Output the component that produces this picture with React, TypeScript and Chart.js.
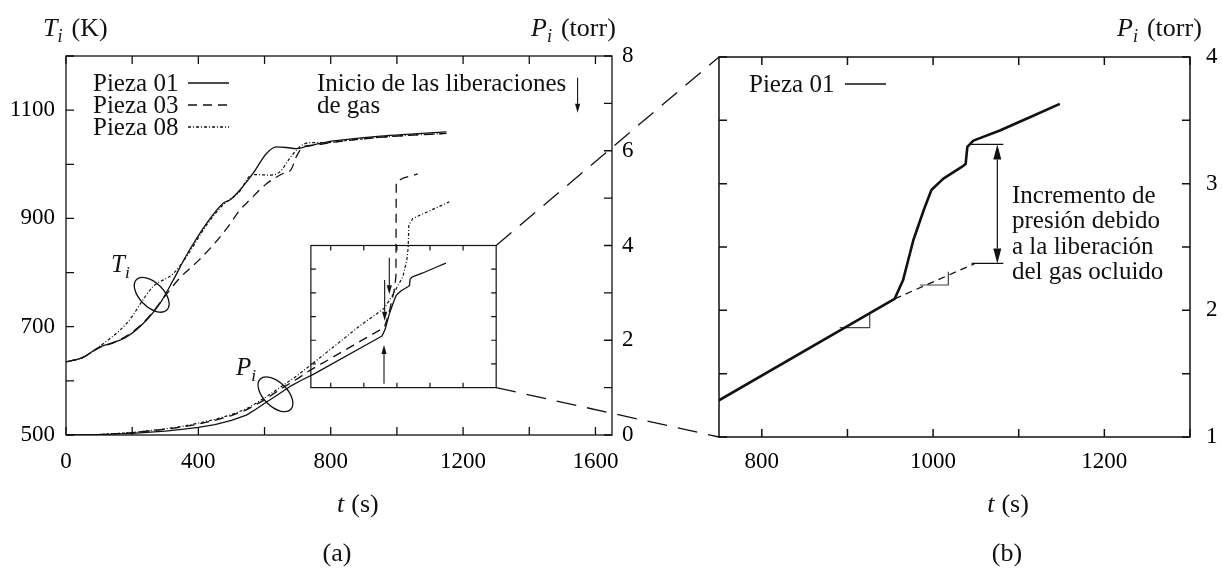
import { useEffect, useRef } from 'react';
import { Chart, registerables } from 'chart.js';

Chart.register(...registerables);

const W = 1222;
const H = 569;
const SERIF = '"Liberation Serif", "Times New Roman", serif';
const INK = '#111';

// ---------- Panel (a): temperatures T_i (K) ----------
const temp01Time = [0, 50, 100, 133, 183, 243, 284, 324, 364, 425, 475, 495, 525, 565, 606, 636, 666, 696, 727, 787, 850, 950, 1050, 1150];
const temp01 = [635, 643, 662, 669, 681, 712, 743, 786, 832, 891, 928, 934, 952, 983, 1020, 1032, 1031, 1029, 1033, 1041, 1046, 1052, 1056, 1060];
const temp03Time = [0, 50, 100, 150, 200, 250, 300, 344, 400, 445, 490, 525, 555, 606, 656, 680, 696, 716, 746, 800, 900, 1000, 1150];
const temp03 = [635, 643, 661, 672, 690, 718, 757, 790, 822, 851, 885, 915, 934, 964, 983, 990, 1014, 1032, 1035, 1040, 1047, 1052, 1057];
const temp08Time = [0, 50, 100, 183, 263, 324, 364, 425, 475, 525, 555, 575, 616, 646, 676, 706, 736, 787, 850, 950, 1050, 1150];
const temp08 = [635, 643, 663, 706, 774, 798, 829, 888, 925, 950, 978, 981, 980, 986, 1011, 1032, 1040, 1040, 1044, 1050, 1054, 1057];

// ---------- Panel (a): pressures P_i (torr) ----------
const pres01Time = [0, 100, 200, 300, 350, 400, 450, 500, 545, 575, 605, 640, 676, 710, 750, 955, 965, 977, 989, 998, 1012, 1033, 1038, 1040, 1047, 1078, 1115, 1148];
const pres01 = [0, 0.01, 0.035, 0.08, 0.12, 0.16, 0.22, 0.31, 0.42, 0.55, 0.69, 0.85, 1.02, 1.15, 1.29, 2.09, 2.24, 2.555, 2.79, 2.95, 3.04, 3.13, 3.155, 3.29, 3.34, 3.42, 3.53, 3.63];
const pres03Time = [0, 100, 200, 300, 350, 400, 450, 500, 545, 600, 646, 700, 736, 796, 887, 962, 977, 992, 997, 998, 1018, 1063];
const pres03 = [0, 0.01, 0.05, 0.12, 0.17, 0.23, 0.31, 0.41, 0.53, 0.74, 0.96, 1.19, 1.36, 1.6, 1.97, 2.27, 2.6, 3.06, 3.34, 5.34, 5.42, 5.51];
const pres08Time = [0, 100, 200, 300, 350, 400, 450, 500, 545, 600, 646, 700, 736, 796, 887, 961, 987, 1018, 1030, 1034, 1036, 1048, 1158];
const pres08 = [0, 0.01, 0.05, 0.13, 0.18, 0.25, 0.33, 0.43, 0.55, 0.78, 1.0, 1.26, 1.46, 1.79, 2.3, 2.67, 2.95, 3.34, 3.7, 3.95, 4.43, 4.57, 4.92];

// ---------- Panel (b): construction lines ----------
const extrapTime = [955, 1049];
const extrapPres = [2.09, 2.37];
const slope1Time = [891, 926, 926];
const slope1Pres = [1.864, 1.864, 1.984];
const slope2Time = [984.7, 1017.8, 1017.8];
const slope2Pres = [2.2, 2.2, 2.305];

// annotation anchors (data coordinates)
const increaseTop = { t0: 1043, t1: 1082, p: 3.31 };
const increaseBottom = { t0: 1045, t1: 1082, p: 2.37 };
const increaseArrowTime = 1075;
const insetTime = [740, 1300];
const insetPres = [1, 4];
const insetTimeTicks = [800, 900, 1000, 1100, 1200];
const insetPresTicks = [1.5, 2, 2.5, 3, 3.5];
const releaseArrows = [
  { t: 977, from: 3.74, to: 2.97 },
  { t: 963, from: 3.27, to: 2.41 },
  { t: 961, from: 1.08, to: 1.9 },
];
const startArrow = { t: 1546, from: 7.54, to: 6.8 };
const ellipseT = { t: 259, v: 759 };
const ellipseP = { t: 633, v: 0.86 };

const legendLabelsA = ['Pieza 01', 'Pieza 03', 'Pieza 08'];
const dashSolid: number[] = [];
const dashDashed = [9, 6];
const dashDotted = [3, 2, 1, 2];

const toPoints = (xs: number[], ys: number[]) => xs.map((x, i) => ({ x, y: ys[i] }));

const TICK = 8;
const fnt = (size: number, italic = false) => `${italic ? 'italic ' : ''}${size}px ${SERIF}`;

type Part = [string, 'n' | 'i' | 's' | 'g'];
function drawRich(ctx: CanvasRenderingContext2D, x: number, y: number, parts: Part[], size: number, align: 'left' | 'center' = 'left') {
  const widths = parts.map(([t, s]) => {
    if (s === 'g') return Number(t);
    ctx.font = s === 's' ? fnt(size * 0.7, true) : fnt(size, s === 'i');
    return ctx.measureText(t).width;
  });
  const total = widths.reduce((a, b) => a + b, 0);
  let cx = align === 'center' ? x - total / 2 : x;
  ctx.textAlign = 'left';
  ctx.textBaseline = 'alphabetic';
  parts.forEach(([t, s], i) => {
    if (s !== 'g') {
      ctx.font = s === 's' ? fnt(size * 0.7, true) : fnt(size, s === 'i');
      ctx.fillText(t, cx, s === 's' ? y + size * 0.22 : y);
    }
    cx += widths[i];
  });
}

function arrow(ctx: CanvasRenderingContext2D, x1: number, y1: number, x2: number, y2: number, len: number, half: number) {
  const ang = Math.atan2(y2 - y1, x2 - x1);
  const bx = x2 - len * Math.cos(ang);
  const by = y2 - len * Math.sin(ang);
  ctx.beginPath();
  ctx.moveTo(x1, y1);
  ctx.lineTo(bx, by);
  ctx.stroke();
  ctx.beginPath();
  ctx.moveTo(x2, y2);
  ctx.lineTo(bx + half * Math.sin(ang), by - half * Math.cos(ang));
  ctx.lineTo(bx - half * Math.sin(ang), by + half * Math.cos(ang));
  ctx.closePath();
  ctx.fill();
}

const tickFont = { family: SERIF, size: 23 };
const gridOff = { display: false, drawTicks: false };

const panelAPlugin = {
  id: 'panelA',
  afterDraw(chart: any) {
    const { ctx, chartArea: ca, scales } = chart;
    const xs = scales.x, yT = scales.yT, yP = scales.yP;
    ctx.save();
    ctx.strokeStyle = INK;
    ctx.fillStyle = INK;
    ctx.lineWidth = 1.3;
    ctx.setLineDash([]);
    ctx.strokeRect(ca.left, ca.top, ca.right - ca.left, ca.bottom - ca.top);
    ctx.beginPath();
    xs.ticks.forEach((t: any) => {
      const px = xs.getPixelForValue(t.value);
      ctx.moveTo(px, ca.bottom); ctx.lineTo(px, ca.bottom - TICK);
      ctx.moveTo(px, ca.top); ctx.lineTo(px, ca.top + TICK);
    });
    yT.ticks.forEach((t: any) => {
      const py = yT.getPixelForValue(t.value);
      ctx.moveTo(ca.left, py); ctx.lineTo(ca.left + TICK, py);
    });
    yP.ticks.forEach((t: any) => {
      const py = yP.getPixelForValue(t.value);
      ctx.moveTo(ca.right, py); ctx.lineTo(ca.right - TICK, py);
    });
    ctx.stroke();

    // inset box
    const ix0 = xs.getPixelForValue(insetTime[0]);
    const ix1 = xs.getPixelForValue(insetTime[1]);
    const iy0 = yP.getPixelForValue(insetPres[0]);
    const iy1 = yP.getPixelForValue(insetPres[1]);
    ctx.lineWidth = 1.2;
    ctx.strokeRect(ix0, iy1, ix1 - ix0, iy0 - iy1);
    ctx.beginPath();
    insetTimeTicks.forEach((t) => {
      const px = xs.getPixelForValue(t);
      ctx.moveTo(px, iy0); ctx.lineTo(px, iy0 - 5);
      ctx.moveTo(px, iy1); ctx.lineTo(px, iy1 + 5);
    });
    insetPresTicks.forEach((p) => {
      const py = yP.getPixelForValue(p);
      ctx.moveTo(ix0, py); ctx.lineTo(ix0 + 5, py);
      ctx.moveTo(ix1, py); ctx.lineTo(ix1 - 5, py);
    });
    ctx.stroke();

    // release arrows
    ctx.lineWidth = 1.1;
    releaseArrows.forEach((a) => {
      const px = xs.getPixelForValue(a.t);
      arrow(ctx, px, yP.getPixelForValue(a.from), px, yP.getPixelForValue(a.to), 9, 2.6);
    });
    {
      const px = xs.getPixelForValue(startArrow.t);
      arrow(ctx, px, yP.getPixelForValue(startArrow.from), px, yP.getPixelForValue(startArrow.to), 9, 2.6);
    }

    // ellipses
    ctx.lineWidth = 1.3;
    [[xs.getPixelForValue(ellipseT.t), yT.getPixelForValue(ellipseT.v)], [xs.getPixelForValue(ellipseP.t), yP.getPixelForValue(ellipseP.v)]].forEach(([cx, cy]) => {
      ctx.beginPath();
      ctx.ellipse(cx, cy, 21.5, 12, Math.PI / 4, 0, Math.PI * 2);
      ctx.stroke();
    });
    drawRich(ctx, 111, 272, [['T', 'i'], ['i', 's']], 25);
    drawRich(ctx, 236, 375, [['P', 'i'], ['i', 's']], 25);

    // legend
    const ds = chart.data.datasets;
    legendLabelsA.forEach((lab, i) => {
      const base = 91 + i * 22;
      drawRich(ctx, 93, base, [[lab, 'n']], 25);
      ctx.save();
      ctx.lineWidth = 1.3;
      ctx.setLineDash(ds[i].borderDash || []);
      ctx.beginPath();
      ctx.moveTo(188, base - 8);
      ctx.lineTo(229, base - 8);
      ctx.stroke();
      ctx.restore();
    });

    drawRich(ctx, 317, 91, [['Inicio de las liberaciones', 'n']], 25);
    drawRich(ctx, 317, 113, [['de gas', 'n']], 25);

    // axis titles
    drawRich(ctx, 43, 36, [['T', 'i'], ['i', 's'], ['9', 'g'], ['(K)', 'n']], 26);
    drawRich(ctx, 531, 36, [['P', 'i'], ['i', 's'], ['9', 'g'], ['(torr)', 'n']], 26);
    drawRich(ctx, 337, 512, [['t', 'i'], ['7', 'g'], ['(s)', 'n']], 26);
    drawRich(ctx, 337, 561, [['(a)', 'n']], 26, 'center');
    ctx.restore();
  },
};

function makePanelBPlugin(getA: () => any) {
  return {
    id: 'panelB',
    afterDraw(chart: any) {
      const { ctx, chartArea: ca, scales } = chart;
      const xs = scales.x, ys = scales.y;
      ctx.save();
      ctx.strokeStyle = INK;
      ctx.fillStyle = INK;
      ctx.lineWidth = 1.5;
      ctx.setLineDash([]);
      ctx.strokeRect(ca.left, ca.top, ca.right - ca.left, ca.bottom - ca.top);
      ctx.beginPath();
      xs.ticks.forEach((t: any) => {
        const px = xs.getPixelForValue(t.value);
        ctx.moveTo(px, ca.bottom); ctx.lineTo(px, ca.bottom - TICK);
        ctx.moveTo(px, ca.top); ctx.lineTo(px, ca.top + TICK);
      });
      ys.ticks.forEach((t: any) => {
        const py = ys.getPixelForValue(t.value);
        ctx.moveTo(ca.left, py); ctx.lineTo(ca.left + TICK, py);
        ctx.moveTo(ca.right, py); ctx.lineTo(ca.right - TICK, py);
      });
      ctx.stroke();

      // legend
      drawRich(ctx, 749, 92, [['Pieza 01', 'n']], 25);
      ctx.lineWidth = 1.6;
      ctx.beginPath();
      ctx.moveTo(845, 84); ctx.lineTo(886, 84);
      ctx.stroke();

      // increment marks
      ctx.lineWidth = 1.2;
      ctx.beginPath();
      ctx.moveTo(xs.getPixelForValue(increaseTop.t0), ys.getPixelForValue(increaseTop.p));
      ctx.lineTo(xs.getPixelForValue(increaseTop.t1), ys.getPixelForValue(increaseTop.p));
      ctx.moveTo(xs.getPixelForValue(increaseBottom.t0), ys.getPixelForValue(increaseBottom.p));
      ctx.lineTo(xs.getPixelForValue(increaseBottom.t1), ys.getPixelForValue(increaseBottom.p));
      ctx.stroke();
      const ax = xs.getPixelForValue(increaseArrowTime);
      const ayTop = ys.getPixelForValue(increaseTop.p);
      const ayBot = ys.getPixelForValue(increaseBottom.p);
      const mid = (ayTop + ayBot) / 2;
      arrow(ctx, ax, mid, ax, ayTop, 15, 4);
      arrow(ctx, ax, mid, ax, ayBot, 15, 4);

      ['Incremento de', 'presión debido', 'a la liberación', 'del gas ocluido'].forEach((line, i) => {
        drawRich(ctx, 1012, 203 + i * 25.3, [[line, 'n']], 25);
      });

      drawRich(ctx, 1117, 36, [['P', 'i'], ['i', 's'], ['9', 'g'], ['(torr)', 'n']], 26);
      drawRich(ctx, 1008, 512, [['t', 'i'], ['7', 'g'], ['(s)', 'n']], 26, 'center');
      drawRich(ctx, 1007, 561, [['(b)', 'n']], 26, 'center');

      // connectors to the inset of panel (a)
      const a = getA();
      if (a) {
        const axs = a.scales.x, ayP = a.scales.yP;
        ctx.lineWidth = 1.3;
        ctx.setLineDash([20, 11]);
        ctx.beginPath();
        ctx.moveTo(axs.getPixelForValue(insetTime[1]), ayP.getPixelForValue(insetPres[1]));
        ctx.lineTo(xs.getPixelForValue(750), ys.getPixelForValue(4));
        ctx.moveTo(axs.getPixelForValue(insetTime[1]), ayP.getPixelForValue(insetPres[0]));
        ctx.lineTo(xs.getPixelForValue(750), ys.getPixelForValue(1));
        ctx.stroke();
      }
      ctx.restore();
    },
  };
}

const lineDs = (data: any[], dash: number[], axis: string, width: number, mono: boolean) => ({
  data,
  yAxisID: axis,
  borderColor: INK,
  borderWidth: width,
  borderDash: dash,
  pointRadius: 0,
  fill: false,
  tension: 0,
  cubicInterpolationMode: mono ? 'monotone' : 'default',
  borderJoinStyle: 'round',
});

export default function App() {
  const refA = useRef<HTMLCanvasElement>(null);
  const refB = useRef<HTMLCanvasElement>(null);

  useEffect(() => {
    const chartA: any = new Chart(refA.current as HTMLCanvasElement, {
      type: 'line',
      data: {
        datasets: [
          lineDs(toPoints(temp01Time, temp01), dashSolid, 'yT', 1.3, true),
          lineDs(toPoints(temp03Time, temp03), dashDashed, 'yT', 1.3, true),
          lineDs(toPoints(temp08Time, temp08), dashDotted, 'yT', 1.2, true),
          lineDs(toPoints(pres01Time, pres01), dashSolid, 'yP', 1.3, false),
          lineDs(toPoints(pres03Time, pres03), dashDashed, 'yP', 1.3, false),
          lineDs(toPoints(pres08Time, pres08), dashDotted, 'yP', 1.2, false),
        ] as any,
      },
      options: {
        responsive: false,
        animation: false,
        events: [],
        layout: { padding: { top: 56, left: 0, right: 0, bottom: 0 } },
        plugins: { legend: { display: false }, tooltip: { enabled: false } },
        scales: {
          x: {
            type: 'linear', position: 'bottom', min: 0, max: 1650,
            afterFit: (s: any) => { s.height = H - 435; },
            grid: gridOff, border: { display: false },
            ticks: { stepSize: 200, includeBounds: false, autoSkip: false, maxRotation: 0, padding: 13, color: '#000', font: tickFont,
              callback: (v: any) => (Number(v) % 400 === 0 ? String(v) : '') },
          },
          yT: {
            type: 'linear', position: 'left', min: 500, max: 1200,
            afterFit: (s: any) => { s.width = 66; },
            grid: gridOff, border: { display: false },
            ticks: { stepSize: 100, autoSkip: false, padding: 11, color: '#000', font: tickFont,
              callback: (v: any) => ([500, 700, 900, 1100].includes(Number(v)) ? String(v) : '') },
          },
          yP: {
            type: 'linear', position: 'right', min: 0, max: 8,
            afterFit: (s: any) => { s.width = W - 612; },
            grid: gridOff, border: { display: false },
            ticks: { stepSize: 1, autoSkip: false, padding: 10, color: '#000', font: tickFont,
              callback: (v: any) => (Number(v) % 2 === 0 ? String(v) : '') },
          },
        },
      } as any,
      plugins: [panelAPlugin as any],
    });

    const chartB: any = new Chart(refB.current as HTMLCanvasElement, {
      type: 'line',
      data: {
        datasets: [
          lineDs(toPoints(pres01Time, pres01), dashSolid, 'y', 2.6, false),
          lineDs(toPoints(extrapTime, extrapPres), [7, 5], 'y', 1.3, false),
          { ...lineDs(toPoints(slope1Time, slope1Pres), dashSolid, 'y', 1.2, false), borderColor: '#444' },
          { ...lineDs(toPoints(slope2Time, slope2Pres), dashSolid, 'y', 1.2, false), borderColor: '#444' },
        ] as any,
      },
      options: {
        responsive: false,
        animation: false,
        events: [],
        layout: { padding: { top: 57, left: 719, right: 0, bottom: 0 } },
        plugins: { legend: { display: false }, tooltip: { enabled: false } },
        scales: {
          x: {
            type: 'linear', position: 'bottom', min: 750, max: 1300,
            afterFit: (s: any) => { s.height = H - 437; },
            grid: gridOff, border: { display: false },
            ticks: { stepSize: 100, includeBounds: false, autoSkip: false, maxRotation: 0, padding: 11, color: '#000', font: tickFont,
              callback: (v: any) => ([800, 1000, 1200].includes(Number(v)) ? String(v) : '') },
          },
          y: {
            type: 'linear', position: 'right', min: 1, max: 4,
            afterFit: (s: any) => { s.width = W - 1190; },
            grid: gridOff, border: { display: false },
            ticks: { stepSize: 0.5, autoSkip: false, padding: 16, color: '#000', font: tickFont,
              callback: (v: any) => (Number.isInteger(Number(v)) ? String(v) : '') },
          },
        },
      } as any,
      plugins: [makePanelBPlugin(() => chartA) as any],
    });

    return () => {
      chartB.destroy();
      chartA.destroy();
    };
  }, []);

  return (
    <div style={{ position: 'fixed', left: 0, top: 0, width: W, height: H, background: '#fff' }}>
      <canvas ref={refA} width={W} height={H} style={{ position: 'absolute', left: 0, top: 0 }} />
      <canvas ref={refB} width={W} height={H} style={{ position: 'absolute', left: 0, top: 0 }} />
    </div>
  );
}
